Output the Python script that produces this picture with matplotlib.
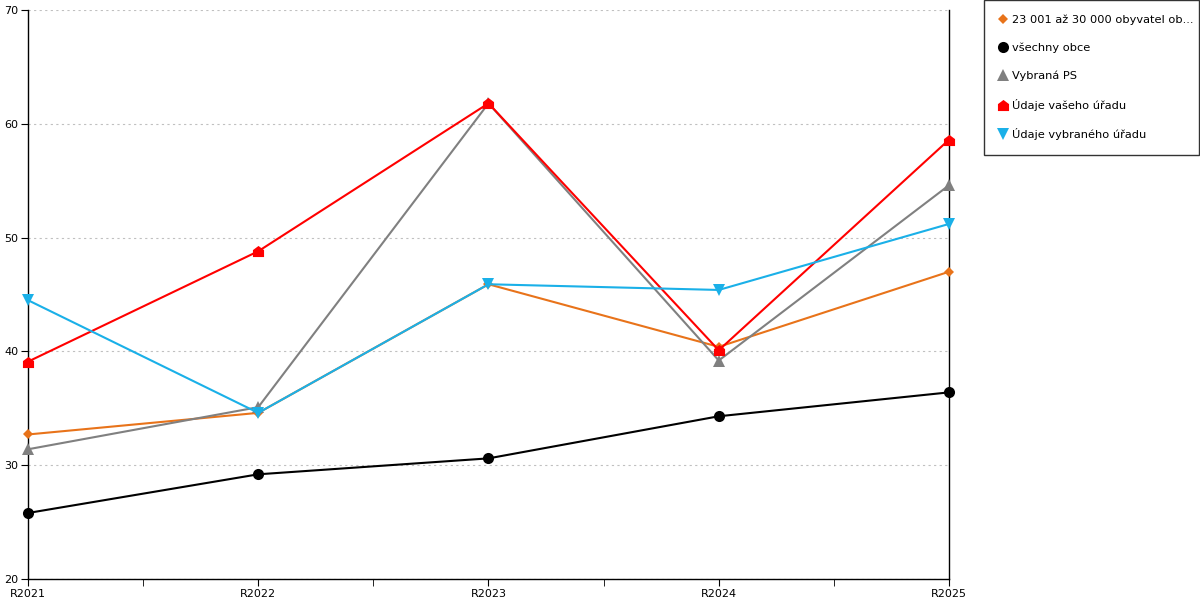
import matplotlib
matplotlib.use("Agg")
import matplotlib.pyplot as plt
from matplotlib.path import Path

years = ["R2021", "R2022", "R2023", "R2024", "R2025"]
obce_23_30 = [32.7, 34.6, 45.9, 40.4, 47.0]
vsechny_obce = [25.8, 29.2, 30.6, 34.3, 36.4]
vybrana_ps = [31.4, 35.1, 61.8, 39.2, 54.6]
vas_urad = [39.1, 48.8, 61.8, 40.1, 58.6]
vybrany_urad = [44.5, 34.6, 45.9, 45.4, 51.2]

house = Path([(-1, -1), (1, -1), (1, 0.25), (0, 1), (-1, 0.25), (-1, -1)],
             [Path.MOVETO, Path.LINETO, Path.LINETO, Path.LINETO, Path.LINETO, Path.CLOSEPOLY])

series = [
    ("23 001 až 30 000 obyvatel ob...", obce_23_30, "#e8731a", "D", 5),
    ("všechny obce", vsechny_obce, "#000000", "o", 8),
    ("Vybraná PS", vybrana_ps, "#808080", "^", 8),
    ("Údaje vašeho úřadu", vas_urad, "#ff0000", house, 8),
    ("Údaje vybraného úřadu", vybrany_urad, "#1ab0e8", "v", 8),
]

plt.rcParams["font.family"] = ["DejaVu Sans"]
fig = plt.figure(figsize=(12, 6), dpi=100)
ax = fig.add_axes([28 / 1200, 21 / 600, 921 / 1200, 569 / 600])

x = list(range(len(years)))
for label, vals, color, marker, ms in series:
    ax.plot(x, vals, color=color, lw=1.5, marker=marker, markersize=ms,
            markeredgewidth=0, label=label, clip_on=False, zorder=3)

ax.set_xlim(0, len(years) - 1)
ax.set_ylim(20, 70)
ax.set_yticks(range(20, 71, 10))
ax.set_xticks(x)
ax.set_xticklabels(years)
ax.set_xticks([i + 0.5 for i in x[:-1]], minor=True)
ax.tick_params(axis="both", which="both", direction="out", length=5, labelsize=8, pad=2)
ax.grid(axis="y", color="#c0c0c0", ls=(0, (2, 3)), lw=0.8)
ax.spines["top"].set_visible(False)
for s in ("left", "right", "bottom"):
    ax.spines[s].set_linewidth(1)

leg = fig.legend(loc="upper left", bbox_to_anchor=(984 / 1200, 0, 215 / 1200, 1.0),
                 mode="expand", frameon=True,
                 fontsize=8.2, labelspacing=1.55, handlelength=0.8, handletextpad=0.4,
                 borderpad=1.25, fancybox=False, edgecolor="black", borderaxespad=0)
leg.get_frame().set_linewidth(1)
for h in leg.legend_handles:
    h.set_linestyle("")

fig.savefig("out.png", dpi=100)
